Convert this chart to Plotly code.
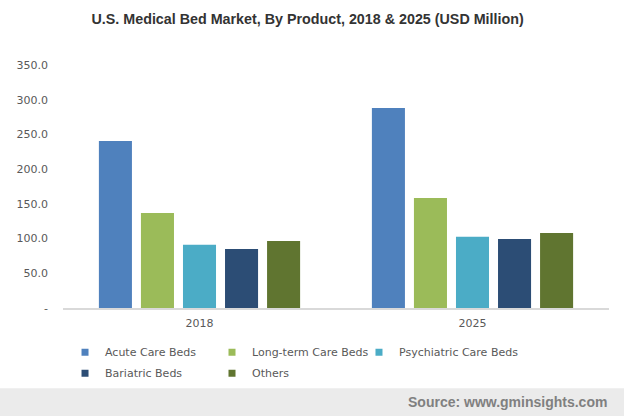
import plotly.graph_objects as go

categories = ["2018", "2025"]
series_names = ["Acute Care Beds", "Long-term Care Beds", "Psychiatric Care Beds", "Bariatric Beds", "Others"]
acute = [240.5, 288.0]
long_term = [137.0, 158.5]
psychiatric = [91.0, 102.5]
bariatric = [85.0, 99.5]
others = [96.5, 108.0]
colors = ["#4F81BD", "#9BBB59", "#4BACC6", "#2C4D75", "#607530"]
y_tickvals = [0, 50, 100, 150, 200, 250, 300, 350]
y_ticktext = ["-", "50.0", "100.0", "150.0", "200.0", "250.0", "300.0", "350.0"]
legend_slots = ["legend", "legend2", "legend3", "legend", "legend2"]

values = [acute, long_term, psychiatric, bariatric, others]

fig = go.Figure()
for name, vals, col in zip(series_names, values, colors):
    fig.add_trace(go.Bar(x=categories, y=vals, name=name, marker=dict(color=col, line=dict(width=0)),
                         legendgroup=name, showlegend=False))
for name, col, lg in zip(series_names, colors, legend_slots):
    fig.add_trace(go.Scatter(x=[None], y=[None], mode="markers", name=name, legendgroup=name,
                             legend=lg, marker=dict(symbol="square", size=7, color=col)))

tick_font = dict(family="DejaVu Sans, Verdana, sans-serif", size=11, color="#595959")
legend_font = dict(family="DejaVu Sans, Verdana, sans-serif", size=11, color="#595959")
legend_common = dict(orientation="v", xanchor="left", y=-0.122, yanchor="top",
                     font=legend_font, tracegroupgap=2, bgcolor="rgba(0,0,0,0)")

fig.update_layout(
    width=624, height=416,
    margin=dict(l=63, r=15, t=65, b=108),
    paper_bgcolor="white", plot_bgcolor="white",
    barmode="group", bargap=0.23, bargroupgap=0.214,
    title=dict(text="<b>U.S. Medical Bed Market, By Product, 2018 & 2025 (USD Million)</b>",
               x=0.493, xanchor="center", y=0.955, yanchor="middle",
               font=dict(family="Liberation Sans, Arial, sans-serif", size=14.3, color="#333333")),
    xaxis=dict(showgrid=False, showline=True, linecolor="#d9d9d9", linewidth=2,
               tickfont=tick_font, ticks="", zeroline=False, ticklabelstandoff=4),
    yaxis=dict(range=[0, 350], showgrid=False, showline=False, zeroline=False,
               tickvals=y_tickvals, ticktext=y_ticktext, tickfont=tick_font,
               ticklabelstandoff=14),
    legend=dict(x=0.0037, **legend_common),
    legend2=dict(x=0.2729, **legend_common),
    legend3=dict(x=0.5421, **legend_common),
    showlegend=True,
)

fig.add_shape(type="rect", xref="paper", yref="paper",
              x0=-0.12, x1=1.04, y0=-0.33, y1=-0.46,
              fillcolor="#EBEBEB", line=dict(width=0), layer="below")
fig.add_annotation(text="<b>Source: www.gminsights.com</b>", xref="paper", yref="paper",
                   x=1.0, xanchor="right", y=-0.386, yanchor="middle", showarrow=False,
                   font=dict(family="Liberation Sans, Arial, sans-serif", size=14, color="#808080"))

fig.write_html("out.html", config={"displayModeBar": False},
               post_script="document.body.style.margin='0';")
